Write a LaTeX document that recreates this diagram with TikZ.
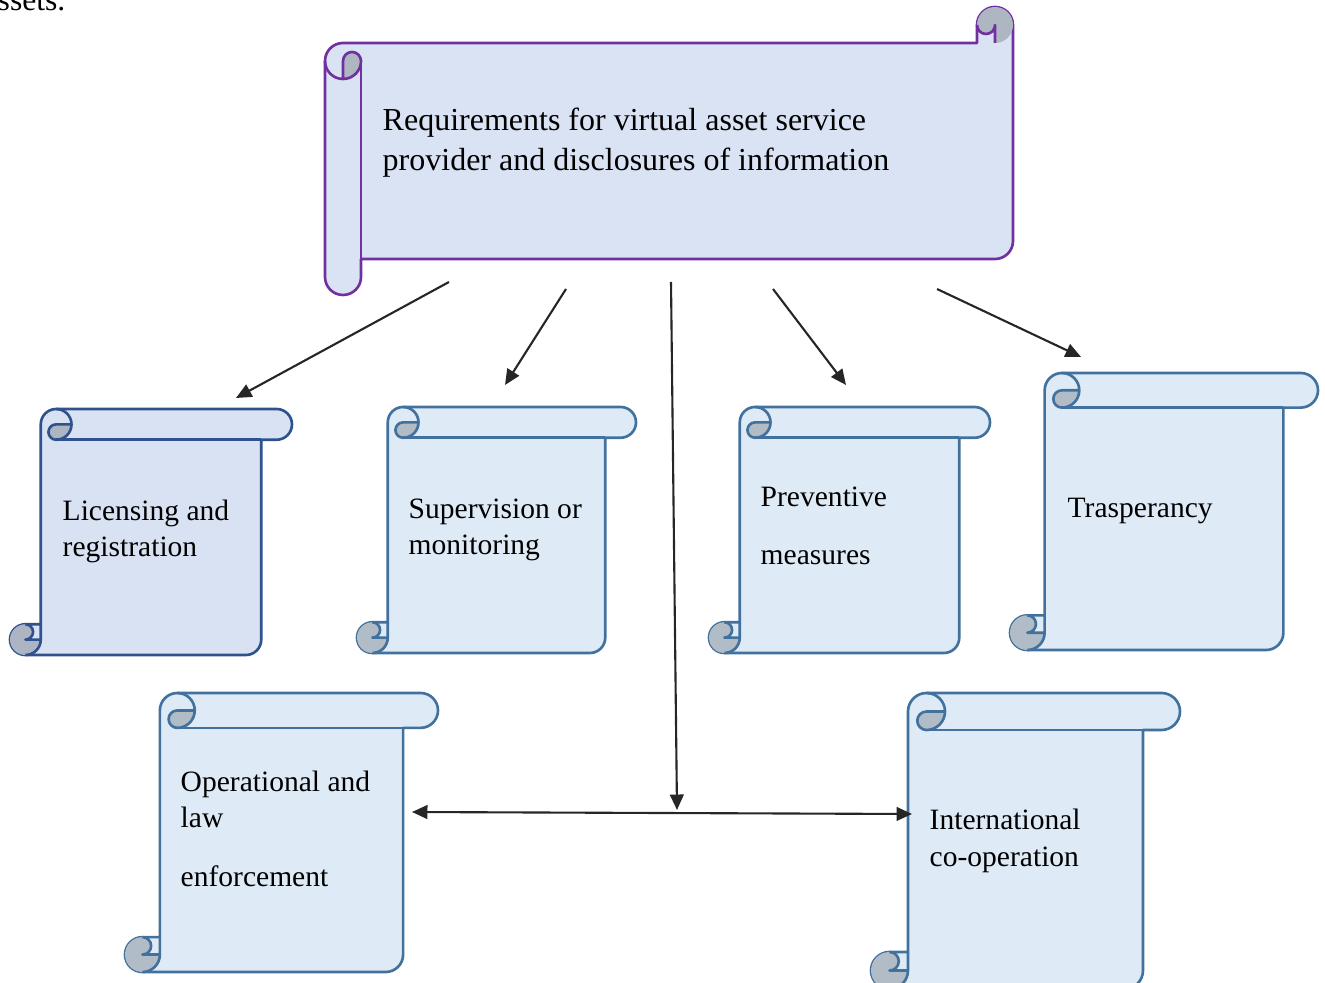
\documentclass[tikz,border=0pt]{standalone}
\usepackage{fontspec}
\setmainfont{Liberation Serif}
\usetikzlibrary{arrows.meta}
\definecolor{topEdge}{HTML}{7030A0}
\definecolor{topFill}{HTML}{DAE3F3}
\definecolor{licEdge}{HTML}{2F528F}
\definecolor{licFill}{HTML}{D9E2F3}
\definecolor{boxEdge}{HTML}{41719C}
\definecolor{boxFill}{HTML}{DEEBF7}

\tikzset{
  scrollline/.style={line width=0.75pt, line join=round},
  boxtext/.style={anchor=base west, inner sep=0pt, align=left,
    font=\fontsize{8.4}{10.5}\selectfont},
  arr/.style={-{Triangle[length=4.4pt, width=3.9pt]}, line width=0.6pt, draw=black!85},
}

% vertical scroll: left, top, right, bottom, edge colour, fill colour
\newcommand{\vscroll}[6]{%
  \pgfmathsetmacro{\sch}{0.125*min(#3-#1,#4-#2)}
  \pgfmathsetmacro{\schh}{\sch/2}
  \pgfmathsetmacro{\schq}{\sch/4}
  \pgfmathsetmacro{\scxa}{#1+\schh}
  \pgfmathsetmacro{\scxb}{#1+\sch}
  \pgfmathsetmacro{\scxc}{#1+1.5*\sch}
  \pgfmathsetmacro{\scxd}{#1+2*\sch}
  \pgfmathsetmacro{\scxe}{#3-\sch}
  \pgfmathsetmacro{\scxf}{#3-\schh}
  \pgfmathsetmacro{\scya}{#2+\schh}
  \pgfmathsetmacro{\scyb}{#2+\sch}
  \pgfmathsetmacro{\scyc}{#4-\sch}
  \pgfmathsetmacro{\scyd}{#4-\schh}
  \filldraw[scrollline, draw=#5, fill=#6] (\scxb,\scyc) -- (\scxb,\scya)
    arc[start angle=180, delta angle=90, radius=\schh] -- (\scxf,#2)
    arc[start angle=270, delta angle=180, radius=\schh] -- (\scxe,\scyb) -- (\scxe,\scyd)
    arc[start angle=0, delta angle=90, radius=\schh] -- (\scxa,#4)
    arc[start angle=90, delta angle=180, radius=\schh] -- cycle;
  \fill[#6!80!black] (\scxd,\scya) arc[start angle=0, delta angle=90, radius=\schh]
    arc[start angle=90, delta angle=180, radius=\schq] -- cycle;
  \fill[#6!80!black] (\scxb,\scyd) arc[start angle=0, delta angle=270, radius=\schh]
    arc[start angle=270, delta angle=180, radius=\schq] -- cycle;
  \draw[scrollline, #5] (\scxc,#2) arc[start angle=270, delta angle=180, radius=\schh]
    arc[start angle=90, delta angle=180, radius=\schq] -- (\scxd,\scya);
  \draw[scrollline, #5] (\scxe,\scyb) -- (\scxc,\scyb);
  \draw[scrollline, #5] (\scxa,\scyc) arc[start angle=270, delta angle=180, radius=\schq] -- (\scxb,\scyd);
  \draw[scrollline, #5] (\scxa,#4) arc[start angle=90, delta angle=-90, radius=\schh] -- (\scxb,\scyc);
}

% horizontal scroll: left, top, right, bottom, edge colour, fill colour
\newcommand{\hscroll}[6]{%
  \pgfmathsetmacro{\sch}{0.125*min(#3-#1,#4-#2)}
  \pgfmathsetmacro{\schh}{\sch/2}
  \pgfmathsetmacro{\schq}{\sch/4}
  \pgfmathsetmacro{\scxa}{#1+\schh}
  \pgfmathsetmacro{\scxb}{#1+\sch}
  \pgfmathsetmacro{\scxc}{#3-\sch}
  \pgfmathsetmacro{\scxd}{#3-\schh}
  \pgfmathsetmacro{\scya}{#2+\schh}
  \pgfmathsetmacro{\scyb}{#2+\sch}
  \pgfmathsetmacro{\scyc}{#2+1.5*\sch}
  \pgfmathsetmacro{\scyd}{#2+2*\sch}
  \pgfmathsetmacro{\scye}{#4-1.5*\sch}
  \pgfmathsetmacro{\scyf}{#4-\sch}
  \pgfmathsetmacro{\scyg}{#4-\schh}
  \filldraw[scrollline, draw=#5, fill=#6] (#1,\scyc)
    arc[start angle=180, delta angle=90, radius=\schh] -- (\scxc,\scyb) -- (\scxc,\scya)
    arc[start angle=180, delta angle=180, radius=\schh] -- (#3,\scye)
    arc[start angle=0, delta angle=90, radius=\schh] -- (\scxb,\scyf) -- (\scxb,\scyg)
    arc[start angle=0, delta angle=180, radius=\schh] -- cycle;
  \fill[#6!80!black] (\scxa,\scyd) arc[start angle=90, delta angle=-90, radius=\schh]
    arc[start angle=0, delta angle=-180, radius=\schq] -- cycle;
  \fill[#6!80!black] (\scxd,\scyb) arc[start angle=90, delta angle=-270, radius=\schh]
    arc[start angle=180, delta angle=-180, radius=\schq] -- cycle;
  \draw[scrollline, #5] (\scxd,\scyb) -- (\scxd,\scya) arc[start angle=0, delta angle=180, radius=\schq];
  \draw[scrollline, #5] (\scxa,\scyd) -- (\scxa,\scyc) arc[start angle=180, delta angle=180, radius=\schq]
    arc[start angle=0, delta angle=180, radius=\schh];
  \draw[scrollline, #5] (\scxb,\scyc) -- (\scxb,\scyf);
}

\begin{document}
\begin{tikzpicture}[x=0.01cm, y=-0.01cm]
  \useasboundingbox (0,0) rectangle (1325,983);

  \node[boxtext, font=\fontsize{9}{11}\selectfont] (tail) at (-3,11) {ssets.};

  % main requirement
  \hscroll{325}{7}{1013}{295}{topEdge}{topFill}
  \node[boxtext, font=\fontsize{9.1}{11.4}\selectfont] (req) at (382,171)
    {Requirements for virtual asset service\\provider and disclosures of information};

  % first row
  \vscroll{10}{409}{292}{655}{licEdge}{licFill}
  \node[boxtext] (lic) at (62,557) {Licensing and\\registration};
  \vscroll{357}{407}{636}{653}{boxEdge}{boxFill}
  \node[boxtext] (sup) at (408,555) {Supervision or\\monitoring};
  \vscroll{709}{407}{990}{653}{boxEdge}{boxFill}
  \node[boxtext] (prev) at (760,565) {Preventive\\[6pt]measures};
  \vscroll{1010}{373}{1318}{650}{boxEdge}{boxFill}
  \node[boxtext] (trans) at (1067,518) {Trasperancy};

  % second row
  \vscroll{125}{693}{438}{972}{boxEdge}{boxFill}
  \node[boxtext] (oper) at (180,886) {Operational and\\law\\[6pt]enforcement};
  \vscroll{871}{693}{1180}{989}{boxEdge}{boxFill}
  \node[boxtext] (intl) at (929,866) {International\\co-operation};

  % connectors
  \coordinate (a1) at (449,282);  \coordinate (b1) at (236,398);
  \coordinate (a2) at (566,289);  \coordinate (b2) at (505,385);
  \coordinate (a3) at (671,282);  \coordinate (b3) at (677,810);
  \coordinate (a4) at (773,289);  \coordinate (b4) at (846,385);
  \coordinate (a5) at (937,289);  \coordinate (b5) at (1081,357);
  \coordinate (c1) at (412,812);  \coordinate (c2) at (912,814);
  \foreach \i in {1,...,5}
    \draw[arr] (a\i) -- (b\i);
  \draw[arr, {Triangle[length=4.4pt, width=3.9pt]}-{Triangle[length=4.4pt, width=3.9pt]}] (c1) -- (c2);
\end{tikzpicture}
\end{document}
